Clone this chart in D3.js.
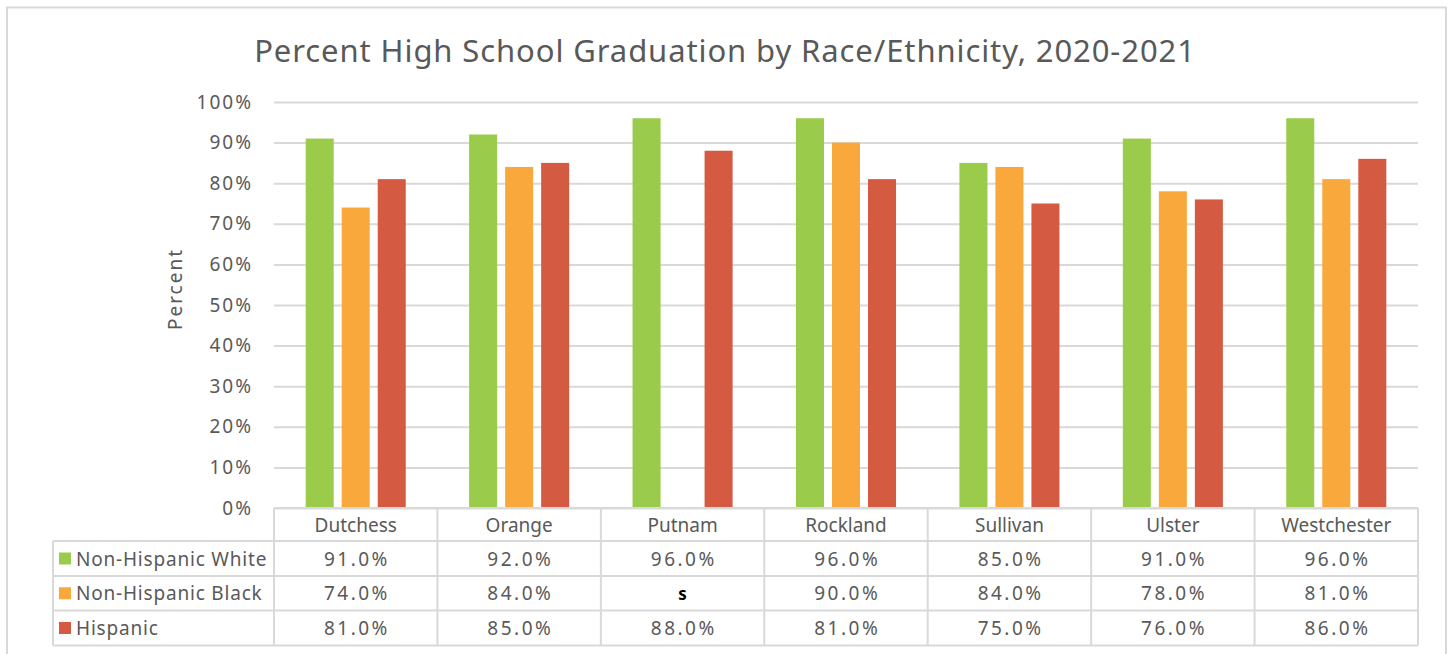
<!DOCTYPE html>
<html>
<head>
<meta charset="utf-8">
<script src="https://cdn.jsdelivr.net/npm/d3@7"></script>
<style>
  body { margin: 0; background: #fff; }
  svg text { font-family: "Noto Sans", "DejaVu Sans", sans-serif; fill: #595959; }
</style>
</head>
<body>
<div id="chart"></div>
<script>
// ---- data ----
const counties = ["Dutchess", "Orange", "Putnam", "Rockland", "Sullivan", "Ulster", "Westchester"];
const seriesNames = ["Non-Hispanic White", "Non-Hispanic Black", "Hispanic"];
const white = [91, 92, 96, 96, 85, 91, 96];
const black = [74, 84, null, 90, 84, 78, 81];   // null = suppressed ("s")
const hispanic = [81, 85, 88, 81, 75, 76, 86];
const colors = ["#9BCB4B", "#F9A83B", "#D45A41"];
const yTicks = [0, 10, 20, 30, 40, 50, 60, 70, 80, 90, 100];

const seriesValues = [white, black, hispanic];

const W = 1448, H = 654;
const plot = { left: 274, right: 1418, top: 102, bottom: 508 };
const tableLeft = 53;
const rowLines = [508, 541, 576, 610.5, 645.5];
const gridColor = "#d9d9d9";

const svg = d3.select("#chart").append("svg")
  .attr("width", W)
  .attr("height", H);

// outer frame
svg.append("rect")
  .attr("x", 7).attr("y", 7.5)
  .attr("width", 1439).attr("height", 660)
  .attr("fill", "#fff")
  .attr("stroke", gridColor)
  .attr("stroke-width", 2);

// title
svg.append("text")
  .attr("x", 725).attr("y", 62)
  .attr("text-anchor", "middle")
  .style("font-size", "31px")
  .style("letter-spacing", "0.9px")
  .text("Percent High School Graduation by Race/Ethnicity, 2020-2021");

const x = d3.scaleBand()
  .domain(counties)
  .range([plot.left, plot.right])
  .padding(0);

const xs = d3.scaleBand()
  .domain(seriesNames)
  .range([0, x.bandwidth()])
  .paddingInner(0.222)
  .paddingOuter(0.88);

const y = d3.scaleLinear()
  .domain([0, 100])
  .range([plot.bottom, plot.top]);

// gridlines + tick labels
const yAxis = d3.axisLeft(y)
  .tickValues(yTicks)
  .tickSize(-(plot.right - plot.left))
  .tickPadding(21)
  .tickFormat(d => d + "%");

const gy = svg.append("g")
  .attr("transform", `translate(${plot.left},0)`)
  .call(yAxis);
gy.select(".domain").remove();
gy.selectAll(".tick line").attr("stroke", gridColor).attr("stroke-width", 2);
gy.selectAll(".tick text")
  .attr("fill", "#595959")
  .style("font-size", "19px")
  .style("letter-spacing", "2px");

// y-axis title
svg.append("text")
  .attr("transform", "translate(182,289) rotate(-90)")
  .attr("text-anchor", "middle")
  .style("font-size", "19px")
  .style("letter-spacing", "2px")
  .text("Percent");

// bars
const rows = [];
counties.forEach((c, i) => {
  seriesNames.forEach((s, j) => {
    rows.push({ county: c, series: s, j, value: seriesValues[j][i] });
  });
});

svg.append("g")
  .selectAll("rect")
  .data(rows.filter(d => d.value !== null))
  .join("rect")
  .attr("x", d => x(d.county) + xs(d.series))
  .attr("width", xs.bandwidth())
  .attr("y", d => y(d.value))
  .attr("height", d => y(0) - y(d.value))
  .attr("fill", d => colors[d.j]);

// ---- data table ----
const gt = svg.append("g");

// horizontal lines
rowLines.forEach((ly, k) => {
  gt.append("line")
    .attr("x1", k === 0 ? plot.left : tableLeft)
    .attr("x2", plot.right)
    .attr("y1", ly).attr("y2", ly)
    .attr("stroke", gridColor)
    .attr("stroke-width", 2);
});

// vertical lines
gt.append("line")
  .attr("x1", tableLeft).attr("x2", tableLeft)
  .attr("y1", rowLines[1]).attr("y2", rowLines[4])
  .attr("stroke", gridColor).attr("stroke-width", 2);

counties.concat(["end"]).forEach((c, i) => {
  const lx = plot.left + i * x.bandwidth();
  gt.append("line")
    .attr("x1", lx).attr("x2", lx)
    .attr("y1", rowLines[0]).attr("y2", rowLines[4])
    .attr("stroke", gridColor).attr("stroke-width", 2);
});

// header (county names)
gt.selectAll("text.cat")
  .data(counties)
  .join("text")
  .attr("class", "cat")
  .attr("x", d => x(d) + x.bandwidth() / 2)
  .attr("y", (rowLines[0] + rowLines[1]) / 2 + 7)
  .attr("text-anchor", "middle")
  .style("font-size", "19px")
  .text(d => d);

// legend keys + row labels
seriesNames.forEach((s, j) => {
  const cy = (rowLines[j + 1] + rowLines[j + 2]) / 2;
  gt.append("rect")
    .attr("x", 59).attr("y", cy - 6)
    .attr("width", 12).attr("height", 12)
    .attr("fill", colors[j]);
  gt.append("text")
    .attr("x", 76).attr("y", cy + 7)
    .style("font-size", "19px")
    .style("letter-spacing", "0.8px")
    .text(s);

  gt.selectAll(null)
    .data(seriesValues[j])
    .join("text")
    .attr("x", (d, i) => x(counties[i]) + x.bandwidth() / 2)
    .attr("dx", d => d === null ? 0 : 1.2)
    .attr("y", cy + 7)
    .attr("text-anchor", "middle")
    .style("font-size", d => d === null ? "17px" : "19px")
    .style("font-weight", d => d === null ? "bold" : null)
    .style("letter-spacing", d => d === null ? null : "2.5px")
    .style("fill", d => d === null ? "#000" : null)
    .text(d => d === null ? "s" : d.toFixed(1) + "%");
});
</script>
</body>
</html>
